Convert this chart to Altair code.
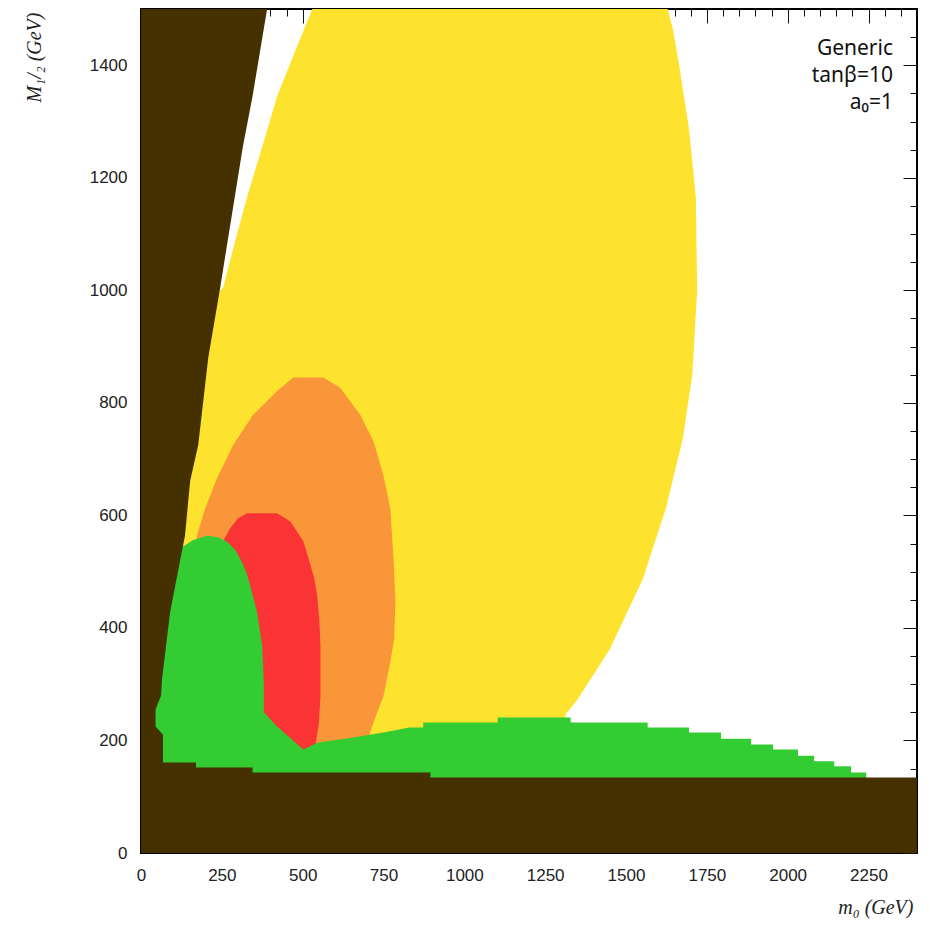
import altair as alt
import pandas as pd

# ---- region outlines (m0 [GeV], M1/2 [GeV]) ----
YELLOW_M0 = [530, 1629, 1645, 1663, 1695, 1716, 1720, 1705, 1676, 1623, 1552, 1450, 1350, 1313, 1313,
             0, 0, 150, 230, 254, 290, 330, 375, 421, 480]
YELLOW_M12 = [1500, 1500, 1464, 1405, 1286, 1166, 1000, 850, 737, 612, 487, 362, 273, 246, 150,
              150, 700, 900, 990, 1005, 1085, 1170, 1255, 1345, 1430]

ORANGE_M0 = [173, 198, 235, 285, 347, 421, 471, 564, 616, 678, 719, 750, 771, 781, 787, 783, 771,
             750, 719, 700, 500, 300, 170]
ORANGE_M12 = [564, 612, 666, 725, 779, 821, 845, 845, 827, 779, 732, 671, 612, 523, 450, 380, 339,
              279, 232, 200, 170, 300, 540]

RED_M0 = [250, 276, 300, 328, 421, 462, 502, 520, 535, 545, 552, 555, 555, 550, 539, 510, 400, 300]
RED_M12 = [550, 577, 595, 604, 604, 589, 554, 520, 490, 457, 410, 368, 279, 230, 189, 170, 200, 400]

GREEN_M0 = [0, 0, 121, 160, 204, 240, 266, 290, 307, 325, 338, 359, 375, 380, 380, 421, 502, 545, 650,
            750, 830, 873, 873, 1103, 1103, 1329, 1329, 1567, 1567, 1695, 1695, 1794, 1794, 1887, 1887,
            1955, 1955, 2032, 2032, 2082, 2082, 2144, 2144, 2196, 2196, 2243, 2243]
GREEN_M12 = [100, 530, 541, 556, 564, 561, 553, 540, 523, 500, 475, 428, 368, 300, 250, 225, 184, 196, 205,
             214, 223, 223, 232, 232, 241, 241, 232, 232, 223, 223, 214, 214, 203, 203, 193,
             193, 184, 184, 173, 173, 163, 163, 154, 154, 143, 143, 100]

BROWN_M0 = [0, 2400, 2400, 895, 895, 345, 345, 170, 170, 68, 68, 45, 45, 62, 65, 90, 121, 136, 152, 177,
            208, 245, 265, 290, 315, 345, 390, 0]
BROWN_M12 = [0, 0, 134, 134, 143, 143, 152, 152, 161, 161, 210, 225, 255, 280, 309, 428, 520, 564, 661, 725,
             880, 1005, 1077, 1166, 1255, 1345, 1500, 1500]

REGIONS = ["yellow", "orange", "red", "green", "brown"]
COLORS = ["#FDE22E", "#F9963A", "#FA3434", "#33CC33", "#453000"]
OUTLINES = [(YELLOW_M0, YELLOW_M12), (ORANGE_M0, ORANGE_M12), (RED_M0, RED_M12),
            (GREEN_M0, GREEN_M12), (BROWN_M0, BROWN_M12)]

X_LABELS = list(range(0, 2251, 250))
Y_LABELS = list(range(0, 1401, 200))
X_MINOR = list(range(0, 2401, 50))
Y_MINOR = list(range(0, 1501, 50))
X_MAJOR = list(range(0, 2401, 250))
Y_MAJOR = list(range(0, 1501, 200))
ANNOTATION = ["Generic", "tanβ=10", "a₀=1"]

rows = []
for name, (xs, ys) in zip(REGIONS, OUTLINES):
    pts = list(zip(xs, ys)) + [(xs[0], ys[0])]
    for i, (a, b) in enumerate(pts):
        rows.append({"region": name, "i": i, "m0": a, "m12": b})
df = pd.DataFrame(rows)

xscale = alt.Scale(domain=[0, 2400], nice=False, zero=False)
yscale = alt.Scale(domain=[0, 1500], nice=False, zero=False)

W, H = 776, 844

x_axis = alt.Axis(values=X_LABELS, format="d", ticks=False, domain=False, grid=False,
                  labelFont="Liberation Sans", labelFontSize=17, labelColor="#222",
                  labelPadding=14, labelFlush=False,
                  title="m₀ (GeV)", titleFont="Liberation Serif", titleFontStyle="italic",
                  titleFontWeight="normal", titleFontSize=20, titleColor="#222",
                  titleAnchor="end", titleAlign="right", titleBaseline="middle",
                  titleX=772, titleY=54)
y_axis = alt.Axis(values=Y_LABELS, format="d", ticks=False, domain=False, grid=False,
                  labelFont="Liberation Sans", labelFontSize=17, labelColor="#222",
                  labelPadding=14, labelFlush=False,
                  title="M₁/₂ (GeV)", titleFont="Liberation Serif", titleFontStyle="italic",
                  titleFontWeight="normal", titleFontSize=20, titleColor="#222",
                  titleAnchor="end", titleAlign="right", titleBaseline="middle",
                  titleAngle=270, titleX=-107, titleY=3)

layers = []
for k, (name, col) in enumerate(zip(REGIONS, COLORS)):
    layers.append(
        alt.Chart(df).transform_filter(alt.datum.region == name)
        .mark_line(filled=True, color=col, strokeWidth=0.6, clip=True)
        .encode(
            x=alt.X("m0:Q", scale=xscale, axis=x_axis if k == 0 else None),
            y=alt.Y("m12:Q", scale=yscale, axis=y_axis if k == 0 else None),
            order=alt.Order("i:Q"),
        )
    )


def tick_layer(xv, yv, size):
    return alt.Chart(df).mark_point(opacity=0).encode(
        x=alt.X("m0:Q", scale=xscale,
                axis=alt.Axis(orient="top", values=xv, tickSize=size, offset=-size, labels=False,
                              domain=False, grid=False, title=None, tickColor="#111", tickWidth=1)),
        y=alt.Y("m12:Q", scale=yscale,
                axis=alt.Axis(orient="right", values=yv, tickSize=size, offset=-size, labels=False,
                              domain=False, grid=False, title=None, tickColor="#111", tickWidth=1)),
    )


layers.append(tick_layer(X_MINOR, Y_MINOR, 7))
layers.append(tick_layer(X_MAJOR, Y_MAJOR, 14))

for j, line in enumerate(ANNOTATION):
    layers.append(
        alt.Chart(pd.DataFrame({"t": [line]})).mark_text(
            align="right", baseline="alphabetic", font="Noto Sans", fontSize=21, color="#111"
        ).encode(text="t:N", x=alt.value(752), y=alt.value(46 + 27 * j))
    )

chart = alt.layer(*layers).resolve_axis(x="independent", y="independent").properties(
    width=W, height=H,
    padding={"left": 133, "top": 1, "right": 4, "bottom": 68},
    autosize=alt.AutoSizeParams(type="none"),
    background="white",
).configure_view(stroke="black", strokeWidth=2)

chart.save("out.html", embed_options={"renderer": "svg", "actions": False})
